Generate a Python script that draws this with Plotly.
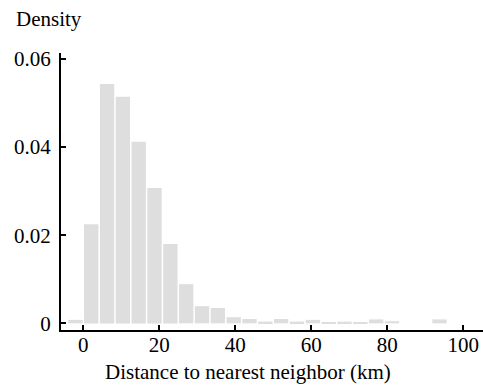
import plotly.graph_objects as go

# Histogram data (density per bin)
bin_width = 100 / 24
first_bin_start = -100 / 24
density = [0.0008, 0.0225, 0.0543, 0.0514, 0.0412, 0.0307, 0.0180, 0.0089,
           0.0039, 0.0035, 0.0014, 0.0010, 0.0004, 0.0010, 0.0004, 0.0008,
           0.0003, 0.0004, 0.0003, 0.0009, 0.0005, 0.0, 0.0, 0.0009, 0.0]
x_ticks = [0, 20, 40, 60, 80, 100]
y_ticks = [0, 0.02, 0.04, 0.06]
y_tick_labels = ["0", "0.02", "0.04", "0.06"]
x_title = "Distance to nearest neighbor (km)"
y_title = "Density"

centers = [first_bin_start + (i + 0.5) * bin_width for i in range(len(density))]

FONT = "Liberation Serif, Times New Roman, serif"
FS = 21

fig = go.Figure(go.Bar(x=centers, y=density, marker=dict(color="#DEDEDE", line=dict(width=0)),
                       hoverinfo="x+y"))

fig.update_layout(
    width=483, height=386,
    margin=dict(l=61, r=0, t=53, b=56, autoexpand=False),
    paper_bgcolor="white", plot_bgcolor="white",
    bargap=0.095,
    showlegend=False,
    font=dict(family=FONT, size=FS, color="black"),
    xaxis=dict(range=[-5.87, 105.2], tickvals=x_ticks, ticks="inside", ticklen=5, tickwidth=2,
               tickcolor="black", showline=True, linecolor="black", linewidth=2,
               showgrid=False, zeroline=False, automargin=False,
               ticklabelstandoff=-5,
               tickfont=dict(family=FONT, size=FS)),
    yaxis=dict(range=[-0.0015, 0.0613], tickvals=y_ticks, ticktext=y_tick_labels,
               ticks="inside", ticklen=5, tickwidth=2, tickcolor="black",
               showline=True, linecolor="black", linewidth=2, automargin=False,
               ticklabelstandoff=4,
               showgrid=False, zeroline=False, tickfont=dict(family=FONT, size=FS)),
    annotations=[
        dict(text=y_title, xref="paper", yref="paper", x=-0.111, y=1.073,
             xanchor="left", yanchor="bottom", showarrow=False,
             font=dict(family=FONT, size=FS)),
        dict(text=x_title, xref="paper", yref="paper", x=0.444, y=-0.15,
             xanchor="center", yanchor="middle", showarrow=False,
             font=dict(family=FONT, size=FS)),
    ],
)

fig.write_html("out.html", config={"displayModeBar": False},
               post_script="document.body.style.margin='0';document.body.style.overflow='hidden';")
